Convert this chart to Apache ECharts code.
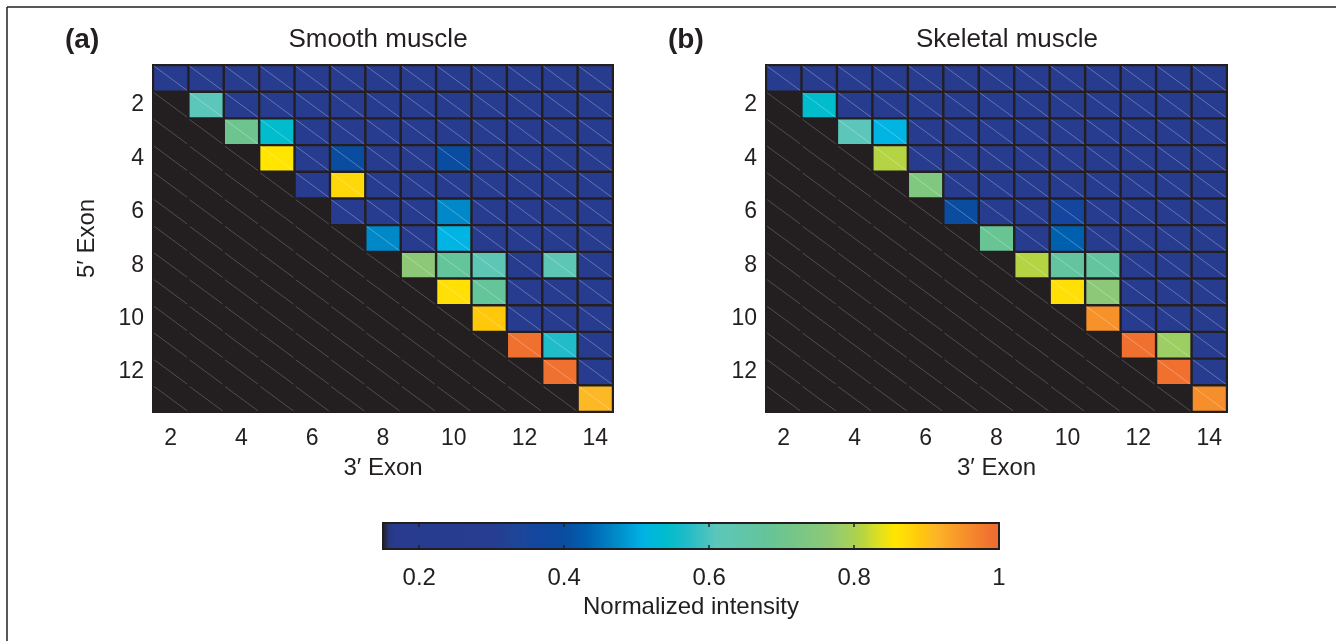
<!DOCTYPE html>
<html>
<head>
<meta charset="utf-8">
<script src="https://cdn.jsdelivr.net/npm/echarts@6/dist/echarts.min.js"></script>
<style>
  html, body { margin: 0; padding: 0; background: #fff; }
  #chart { width: 1336px; height: 641px; }
</style>
</head>
<body>
<div id="chart"></div>
<script>
// 3' exon (columns) and 5' exon (rows)
const exon3 = ['2', '3', '4', '5', '6', '7', '8', '9', '10', '11', '12', '13', '14'];
const exon5 = ['1', '2', '3', '4', '5', '6', '7', '8', '9', '10', '11', '12', '13'];

// normalized intensity, row = 5' exon 1..13, col = 3' exon 2..14 (null = not measured)
const smoothMuscle = [
    [0.22, 0.22, 0.22, 0.22, 0.22, 0.22, 0.22, 0.22, 0.22, 0.22, 0.22, 0.22, 0.22],
    [null, 0.61, 0.22, 0.22, 0.22, 0.22, 0.22, 0.22, 0.22, 0.22, 0.22, 0.22, 0.22],
    [null, null, 0.70, 0.54, 0.22, 0.22, 0.22, 0.22, 0.22, 0.22, 0.22, 0.22, 0.22],
    [null, null, null, 0.855, 0.22, 0.40, 0.22, 0.22, 0.40, 0.22, 0.22, 0.22, 0.22],
    [null, null, null, null, 0.22, 0.875, 0.22, 0.22, 0.22, 0.22, 0.22, 0.22, 0.22],
    [null, null, null, null, null, 0.22, 0.22, 0.22, 0.47, 0.22, 0.22, 0.22, 0.22],
    [null, null, null, null, null, null, 0.47, 0.22, 0.51, 0.22, 0.22, 0.22, 0.22],
    [null, null, null, null, null, null, null, 0.76, 0.68, 0.62, 0.22, 0.62, 0.22],
    [null, null, null, null, null, null, null, null, 0.865, 0.68, 0.22, 0.22, 0.22],
    [null, null, null, null, null, null, null, null, null, 0.89, 0.22, 0.22, 0.22],
    [null, null, null, null, null, null, null, null, null, null, 0.99, 0.57, 0.22],
    [null, null, null, null, null, null, null, null, null, null, null, 0.99, 0.22],
    [null, null, null, null, null, null, null, null, null, null, null, null, 0.91]
];
const skeletalMuscle = [
    [0.22, 0.22, 0.22, 0.22, 0.22, 0.22, 0.22, 0.22, 0.22, 0.22, 0.22, 0.22, 0.22],
    [null, 0.54, 0.22, 0.22, 0.22, 0.22, 0.22, 0.22, 0.22, 0.22, 0.22, 0.22, 0.22],
    [null, null, 0.61, 0.51, 0.22, 0.22, 0.22, 0.22, 0.22, 0.22, 0.22, 0.22, 0.22],
    [null, null, null, 0.81, 0.22, 0.22, 0.22, 0.22, 0.22, 0.22, 0.22, 0.22, 0.22],
    [null, null, null, null, 0.74, 0.22, 0.22, 0.22, 0.22, 0.22, 0.22, 0.22, 0.22],
    [null, null, null, null, null, 0.40, 0.22, 0.22, 0.36, 0.22, 0.22, 0.22, 0.22],
    [null, null, null, null, null, null, 0.69, 0.22, 0.43, 0.22, 0.22, 0.22, 0.22],
    [null, null, null, null, null, null, null, 0.81, 0.67, 0.67, 0.22, 0.22, 0.22],
    [null, null, null, null, null, null, null, null, 0.865, 0.76, 0.22, 0.22, 0.22],
    [null, null, null, null, null, null, null, null, null, 0.95, 0.22, 0.22, 0.22],
    [null, null, null, null, null, null, null, null, null, null, 0.99, 0.785, 0.22],
    [null, null, null, null, null, null, null, null, null, null, null, 0.99, 0.22],
    [null, null, null, null, null, null, null, null, null, null, null, null, 0.955]
];

// colorbar
const colorbarTicks = [0.2, 0.4, 0.6, 0.8, 1];
const cMin = 0.15, cMax = 1;
// colormap stops [value, colour]
const cmapStops = [
    [0.150, '#231f20'], [0.158, '#283b8e'], [0.30, '#273d90'], [0.34, '#1c4699'],
    [0.36, '#1446a0'], [0.40, '#0a4da0'], [0.43, '#0060b0'], [0.47, '#0088c8'],
    [0.51, '#00b4e4'], [0.54, '#00bccc'], [0.57, '#20bcc8'], [0.61, '#5cc6ba'],
    [0.68, '#64c49a'], [0.70, '#6ec48e'], [0.74, '#80c880'], [0.76, '#8cc878'],
    [0.785, '#9cce64'], [0.81, '#b4d444'], [0.835, '#e0e020'], [0.855, '#ffe500'],
    [0.875, '#ffd80a'], [0.89, '#ffc80a'], [0.91, '#fdb825'], [0.95, '#f7922a'],
    [0.99, '#f07030'], [1.0, '#f06a30']
];

const FONT = "'Liberation Sans', Arial, sans-serif";
const TXT = '#231f20';

// sample the piecewise map evenly, visualMap spaces colours evenly
const hexToRgb = h => [1, 3, 5].map(i => parseInt(h.substr(i, 2), 16));
const cmapAt = v => {
    for (let i = 1; i < cmapStops.length; i++) {
        const [v0, c0] = cmapStops[i - 1], [v1, c1] = cmapStops[i];
        if (v <= v1) {
            const t = (v - v0) / (v1 - v0);
            const a = hexToRgb(c0), b = hexToRgb(c1);
            return 'rgb(' + a.map((x, k) => Math.round(x + (b[k] - x) * t)).join(',') + ')';
        }
    }
    return cmapStops[cmapStops.length - 1][1];
};
const cmapColors = [];
for (let i = 0; i <= 170; i++) cmapColors.push(cmapAt(cMin + (cMax - cMin) * i / 170));

const toCells = m => {
    const out = [];
    m.forEach((row, r) => row.forEach((v, c) => out.push([c, r, v === null ? '-' : v])));
    return out;
};

// one cell: filled square (if measured) plus the thin diagonal
const renderCell = (params, api) => {
    const v = api.value(2);
    const c = api.coord([api.value(0), api.value(1)]);
    const s = api.size([1, 1]);
    const x0 = c[0] - s[0] / 2 + 1.2, y0 = c[1] - s[1] / 2 + 1.2;
    const w = s[0] - 2.4, h = s[1] - 2.4;
    const children = [];
    if (!isNaN(v)) {
        children.push({ type: 'rect', shape: { x: x0, y: y0, width: w, height: h }, style: { fill: api.visual('color') } });
    }
    children.push({
        type: 'line',
        shape: { x1: x0, y1: y0, x2: x0 + w, y2: y0 + h },
        style: { stroke: isNaN(v) ? 'rgba(255,255,255,0.3)' : 'rgba(255,255,255,0.4)', lineWidth: 0.7 }
    });
    return { type: 'group', children: children };
};

const panelGrids = [
    { left: 153, top: 65, width: 460, height: 347 },
    { left: 766, top: 65, width: 461, height: 347 }
];

const xAxisFor = i => ({
    type: 'category', gridIndex: i, data: exon3,
    name: '3\u2032 Exon', nameLocation: 'middle', nameGap: 44,
    nameTextStyle: { fontFamily: FONT, fontSize: 24, color: TXT },
    axisLine: { show: false }, axisTick: { show: false },
    axisLabel: { interval: 1, margin: 15, fontFamily: FONT, fontSize: 23, color: TXT }
});
const yAxisFor = i => ({
    type: 'category', gridIndex: i, data: exon5, inverse: true,
    name: i === 0 ? '5\u2032 Exon' : '', nameLocation: 'middle', nameGap: 54,
    nameTextStyle: { fontFamily: FONT, fontSize: 24, color: TXT },
    axisLine: { show: false }, axisTick: { show: false },
    axisLabel: { interval: (idx) => idx % 2 === 1, margin: 9, fontFamily: FONT, fontSize: 23, color: TXT }
});

const cb = { left: 383, top: 523, width: 616, height: 26 };

const option = {
    backgroundColor: '#fff',
    animation: false,
    grid: [
        Object.assign({ show: true, backgroundColor: '#231f20', borderColor: '#231f20', borderWidth: 2 }, panelGrids[0]),
        Object.assign({ show: true, backgroundColor: '#231f20', borderColor: '#231f20', borderWidth: 2 }, panelGrids[1]),
        Object.assign({ show: false }, cb)
    ],
    xAxis: [
        xAxisFor(0), xAxisFor(1),
        {
            type: 'value', gridIndex: 2, min: cMin, max: cMax, position: 'bottom', z: 10,
            name: 'Normalized intensity', nameLocation: 'middle', nameGap: 46,
            nameTextStyle: { fontFamily: FONT, fontSize: 24, color: TXT },
            splitLine: { show: false }, axisLine: { show: false },
            axisTick: { show: true, inside: true, length: 4, customValues: colorbarTicks, lineStyle: { color: '#231f20', width: 1.5 } },
            axisLabel: { customValues: colorbarTicks, margin: 17, fontFamily: FONT, fontSize: 24, color: TXT }
        },
        {
            type: 'value', gridIndex: 2, min: cMin, max: cMax, position: 'top', z: 10,
            splitLine: { show: false }, axisLine: { show: false },
            axisTick: { show: true, inside: true, length: 4, customValues: colorbarTicks, lineStyle: { color: '#231f20', width: 1.5 } },
            axisLabel: { show: false }
        }
    ],
    yAxis: [
        yAxisFor(0), yAxisFor(1),
        { type: 'value', gridIndex: 2, show: false }
    ],
    visualMap: {
        type: 'continuous', min: cMin, max: cMax, seriesIndex: [0, 1],
        orient: 'horizontal', left: cb.left, top: cb.top,
        itemWidth: cb.height, itemHeight: cb.width, padding: 0,
        calculable: false, hoverLink: false, text: null,
        inRange: { color: cmapColors }
    },
    graphic: [
        { type: 'line', shape: { x1: 7, y1: 7, x2: 1336, y2: 7 }, style: { stroke: '#231f20', lineWidth: 1.5 } },
        { type: 'line', shape: { x1: 7, y1: 7, x2: 7, y2: 641 }, style: { stroke: '#231f20', lineWidth: 1.5 } },
        { type: 'rect', z: 100, shape: { x: cb.left, y: cb.top, width: cb.width, height: cb.height }, style: { fill: 'none', stroke: '#231f20', lineWidth: 2 } },
        { type: 'text', x: 65, y: 40, style: { text: '(a)', font: 'bold 28px ' + FONT, fill: TXT, textVerticalAlign: 'middle' } },
        { type: 'text', x: 378, y: 40, style: { text: 'Smooth muscle', font: '26px ' + FONT, fill: TXT, textAlign: 'center', textVerticalAlign: 'middle' } },
        { type: 'text', x: 668, y: 40, style: { text: '(b)', font: 'bold 28px ' + FONT, fill: TXT, textVerticalAlign: 'middle' } },
        { type: 'text', x: 1007, y: 40, style: { text: 'Skeletal muscle', font: '26px ' + FONT, fill: TXT, textAlign: 'center', textVerticalAlign: 'middle' } }
    ],
    series: [
        { type: 'custom', name: 'Smooth muscle', xAxisIndex: 0, yAxisIndex: 0, renderItem: renderCell, data: toCells(smoothMuscle) },
        { type: 'custom', name: 'Skeletal muscle', xAxisIndex: 1, yAxisIndex: 1, renderItem: renderCell, data: toCells(skeletalMuscle) }
    ]
};

const myChart = echarts.init(document.getElementById('chart'));
myChart.setOption(option);
</script>
</body>
</html>
